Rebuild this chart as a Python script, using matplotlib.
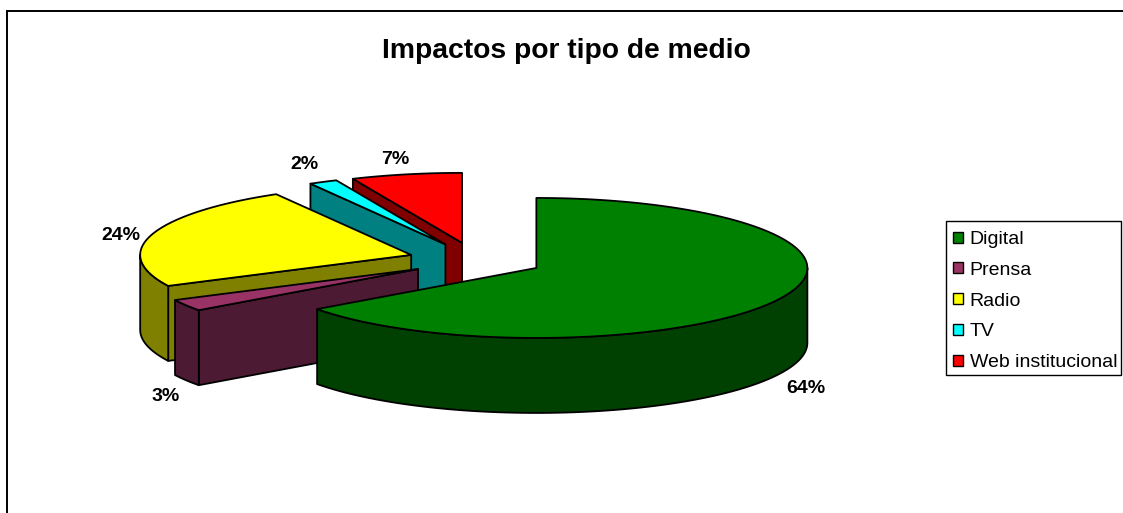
import numpy as np
import matplotlib
matplotlib.use('Agg')
import matplotlib.pyplot as plt
from matplotlib.patches import Polygon, Patch, Rectangle

plt.rcParams['font.family'] = ['Liberation Sans', 'DejaVu Sans']

categories = ['Digital', 'Prensa', 'Radio', 'TV', 'Web institucional']
values = [65.0, 2.7, 24.0, 1.7, 6.6]
value_labels = ['64%', '3%', '24%', '2%', '7%']
top_colors = ['#008000', '#993366', '#FFFF00', '#00FFFF', '#FF0000']
side_colors = ['#004000', '#4D1A33', '#808000', '#008080', '#800000']

# pie geometry, in pixels of the figure
cx, cy = 476, 260
rx, ry = 271, 70
depth = 75
explode = 0.25
lw = 1.3
# small nudges for the value labels
nudge_x = [1, 5, -2, -5, -5]
nudge_y = [1, 2, 3, -4, 1]


def rim(px, py, a):
    # a is in degrees, clockwise from 12 o'clock
    a = np.radians(a)
    return px + rx * np.sin(a), py - ry * np.cos(a)


fig = plt.figure(figsize=(11.23, 5.13), dpi=100)
ax = fig.add_axes([0, 0, 1, 1])
ax.set_xlim(0, 1123)
ax.set_ylim(513, 0)
ax.axis('off')

ax.add_patch(Rectangle((7, 11), 1200, 600, fc='white', ec='black', lw=1.4))

fracs = np.array(values) / sum(values) * 360
ends = np.cumsum(fracs)
starts = ends - fracs

# back slices first, the big front one last
for i in range(len(values) - 1, -1, -1):
    a0, a1 = starts[i], ends[i]
    mid = (a0 + a1) / 2
    px = cx + explode * rx * np.sin(np.radians(mid))
    py = cy - explode * ry * np.cos(np.radians(mid))

    # wall on the first edge of the slice
    if np.sin(np.radians(a0)) < -0.01:
        x0, y0 = rim(px, py, a0)
        ax.add_patch(Polygon([(px, py), (x0, y0), (x0, y0 + depth), (px, py + depth)],
                             fc=side_colors[i], ec='black', lw=lw, joinstyle='round'))

    # outer wall, only the part turned to the front
    s0, s1 = max(a0, 90), min(a1, 270)
    if s1 > s0:
        t = np.linspace(s0, s1, 80)
        xs, ys = rim(px, py, t)
        pts = list(zip(xs, ys)) + list(zip(xs[::-1], ys[::-1] + depth))
        ax.add_patch(Polygon(pts, fc=side_colors[i], ec='black', lw=lw, joinstyle='round'))

    # top face
    t = np.linspace(a0, a1, 120)
    xs, ys = rim(px, py, t)
    pts = [(px, py)] + list(zip(xs, ys))
    ax.add_patch(Polygon(pts, fc=top_colors[i], ec='black', lw=lw, joinstyle='round'))

    # value label outside the rim
    lx, ly = rim(px, py, mid)
    s, c = np.sin(np.radians(mid)), np.cos(np.radians(mid))
    if c < -0.2:
        ly += depth
    ax.text(lx + 30 * s + nudge_x[i], ly - 20 * c + 4 + nudge_y[i], value_labels[i],
            ha='center', va='center', fontsize=14, fontweight='bold', color='black')

ax.text(566, 51, 'Impactos por tipo de medio', ha='center', va='center',
        fontsize=20.3, fontweight='bold', color='black')

# legend box drawn apart, its padding is not even in the original
ax.add_patch(Rectangle((946, 221), 175, 154, fc='white', ec='black', lw=1.0, zorder=4))
handles = [Patch(fc=c, ec='black', lw=1.0) for c in top_colors]
leg = ax.legend(handles, categories, loc='upper left',
                bbox_to_anchor=(946 / 1123, 1 - 224 / 513), bbox_transform=ax.transAxes,
                borderaxespad=0, fontsize=14, frameon=False,
                handlelength=0.5, handleheight=0.5, handletextpad=0.36,
                labelspacing=0.71, borderpad=0.36)
leg.set_zorder(5)

fig.savefig('out.png', dpi=100)
